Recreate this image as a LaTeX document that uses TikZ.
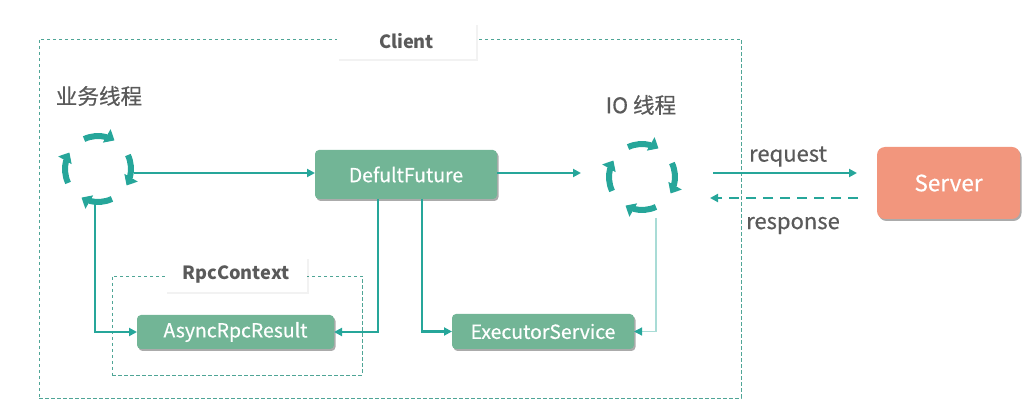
\documentclass[tikz,border=0pt]{standalone}
\usepackage{fontspec}
\setmainfont{Noto Sans CJK SC}
\newfontfamily\medfont[FakeBold=0.5]{Noto Sans CJK SC}
\usepackage{tikz}
\usetikzlibrary{arrows.meta,bending,positioning,shadows}
\definecolor{tealline}{HTML}{26A69A}
\definecolor{tealdash}{HTML}{4FA596}
\definecolor{tealpale}{HTML}{A9DCD6}
\definecolor{boxgreen}{HTML}{72B596}
\definecolor{boxsalmon}{HTML}{F2967D}
\definecolor{labelgray}{HTML}{5A5A5A}

\begin{document}
\begin{tikzpicture}[
  x=1pt,y=1pt,
  >={Triangle[length=8pt,width=8pt]},
  taskbox/.style={
    rounded corners=4pt,fill=boxgreen,text=white,font=\fontsize{19.4}{20}\selectfont\medfont,
    inner sep=0pt,outer sep=0pt,
    drop shadow={shadow xshift=1.5pt,shadow yshift=-2pt,opacity=.55,fill=black!60}
  },
  groupbox/.style={
    draw=tealdash,line width=.9pt,dash pattern=on 3.5pt off 2.5pt,
    inner sep=0pt,outer sep=0pt
  },
  grouplabel/.style={
    fill=white,text=labelgray,inner sep=0pt,font=\fontsize{18.2}{20}\selectfont\bfseries,
    drop shadow={shadow xshift=2pt,shadow yshift=-2pt,opacity=.05,fill=black}
  },
  looplabel/.style={text=labelgray,inner sep=0pt,font=\fontsize{21.6}{24}\selectfont\medfont},
  flowlabel/.style={text=labelgray,inner sep=0pt,font=\fontsize{22}{24}\selectfont\medfont},
  loopnode/.style={circle,minimum size=72pt,inner sep=0pt,outer sep=0pt},
  flow/.style={->,draw=tealline,line width=2.5pt},
  spin/.style={-{Triangle[length=9pt,width=15pt,flex=0]},draw=tealline,line width=6pt}
]
\useasboundingbox (0,0) rectangle (1034,415);

% ---- dashed groups and their captions ----
\node[groupbox,minimum width=702pt,minimum height=359pt] (client) at (390,196.5) {};
\node[groupbox,minimum width=250pt,minimum height=99pt] (rpcgroup) at (237,89.5) {};
\node[grouplabel,minimum width=139pt,minimum height=36pt] (clientlabel) at (406.5,374) {Client};
\node[grouplabel,minimum width=142pt,minimum height=35pt] (rpclabel) at (236,140.5) {RpcContext};

% ---- thread loops ----
\node[loopnode] (loopB) at (98,246) {};
\node[loopnode] (loopI) at (642,238) {};
\foreach \loopname in {loopB,loopI}
  \foreach \a in {115,25,-65,-155}
    \draw[spin] ([shift={(\a:33)}]\loopname.center) arc (\a:\a-55:33);

\node[looplabel] (bizlabel) at (99,319) {业务线程};
\node[looplabel] (iolabel) at (641,310) {IO 线程};

% ---- boxes ----
\node[taskbox,minimum width=182pt,minimum height=49pt] (future) at (406,240.5) {DefultFuture};
\node[taskbox,minimum width=197pt,minimum height=34pt] (async) at (235.5,83) {AsyncRpcResult};
\node[taskbox,minimum width=182pt,minimum height=35pt] (exec) at (543,83.5) {ExecutorService};
\node[taskbox,rounded corners=8pt,fill=boxsalmon,font=\fontsize{22.5}{24}\selectfont\medfont,minimum width=143pt,minimum height=72pt] (server) at (948.5,232) {Server};

% ---- flows ----
\draw[flow] (loopB.east |- 0,242) -- (future.west |- 0,242);
\draw[flow] ([xshift=-3pt]loopB.south) |- (async.west);
\draw[flow] ([xshift=-28pt]future.south) |- (async.east);
\draw[flow] ([xshift=16pt]future.south) |- (exec.west);
\draw[flow] (future.east |- 0,242) -- ([xshift=-25pt]loopI.west |- 0,242);
\draw[flow,-{Triangle[length=8pt,width=8pt,color=tealline]},draw=tealpale,line width=1.2pt] ([shift={(14pt,-5pt)}]loopI.south) |- (exec.east);

% ---- client and server ----
\coordinate (reqstart) at (713,242);
\coordinate (reqend) at (857,242);
\coordinate (respstart) at (858,217);
\coordinate (respend) at (710,217);
\draw[flow] (reqstart) -- (reqend);
\draw[flow,dash pattern=on 10pt off 7pt] (respstart) -- (respend);
\node[flowlabel] (reqlabel) at (788,258.5) {request};
\node[flowlabel] (resplabel) at (793,189.5) {response};
\end{tikzpicture}
\end{document}
